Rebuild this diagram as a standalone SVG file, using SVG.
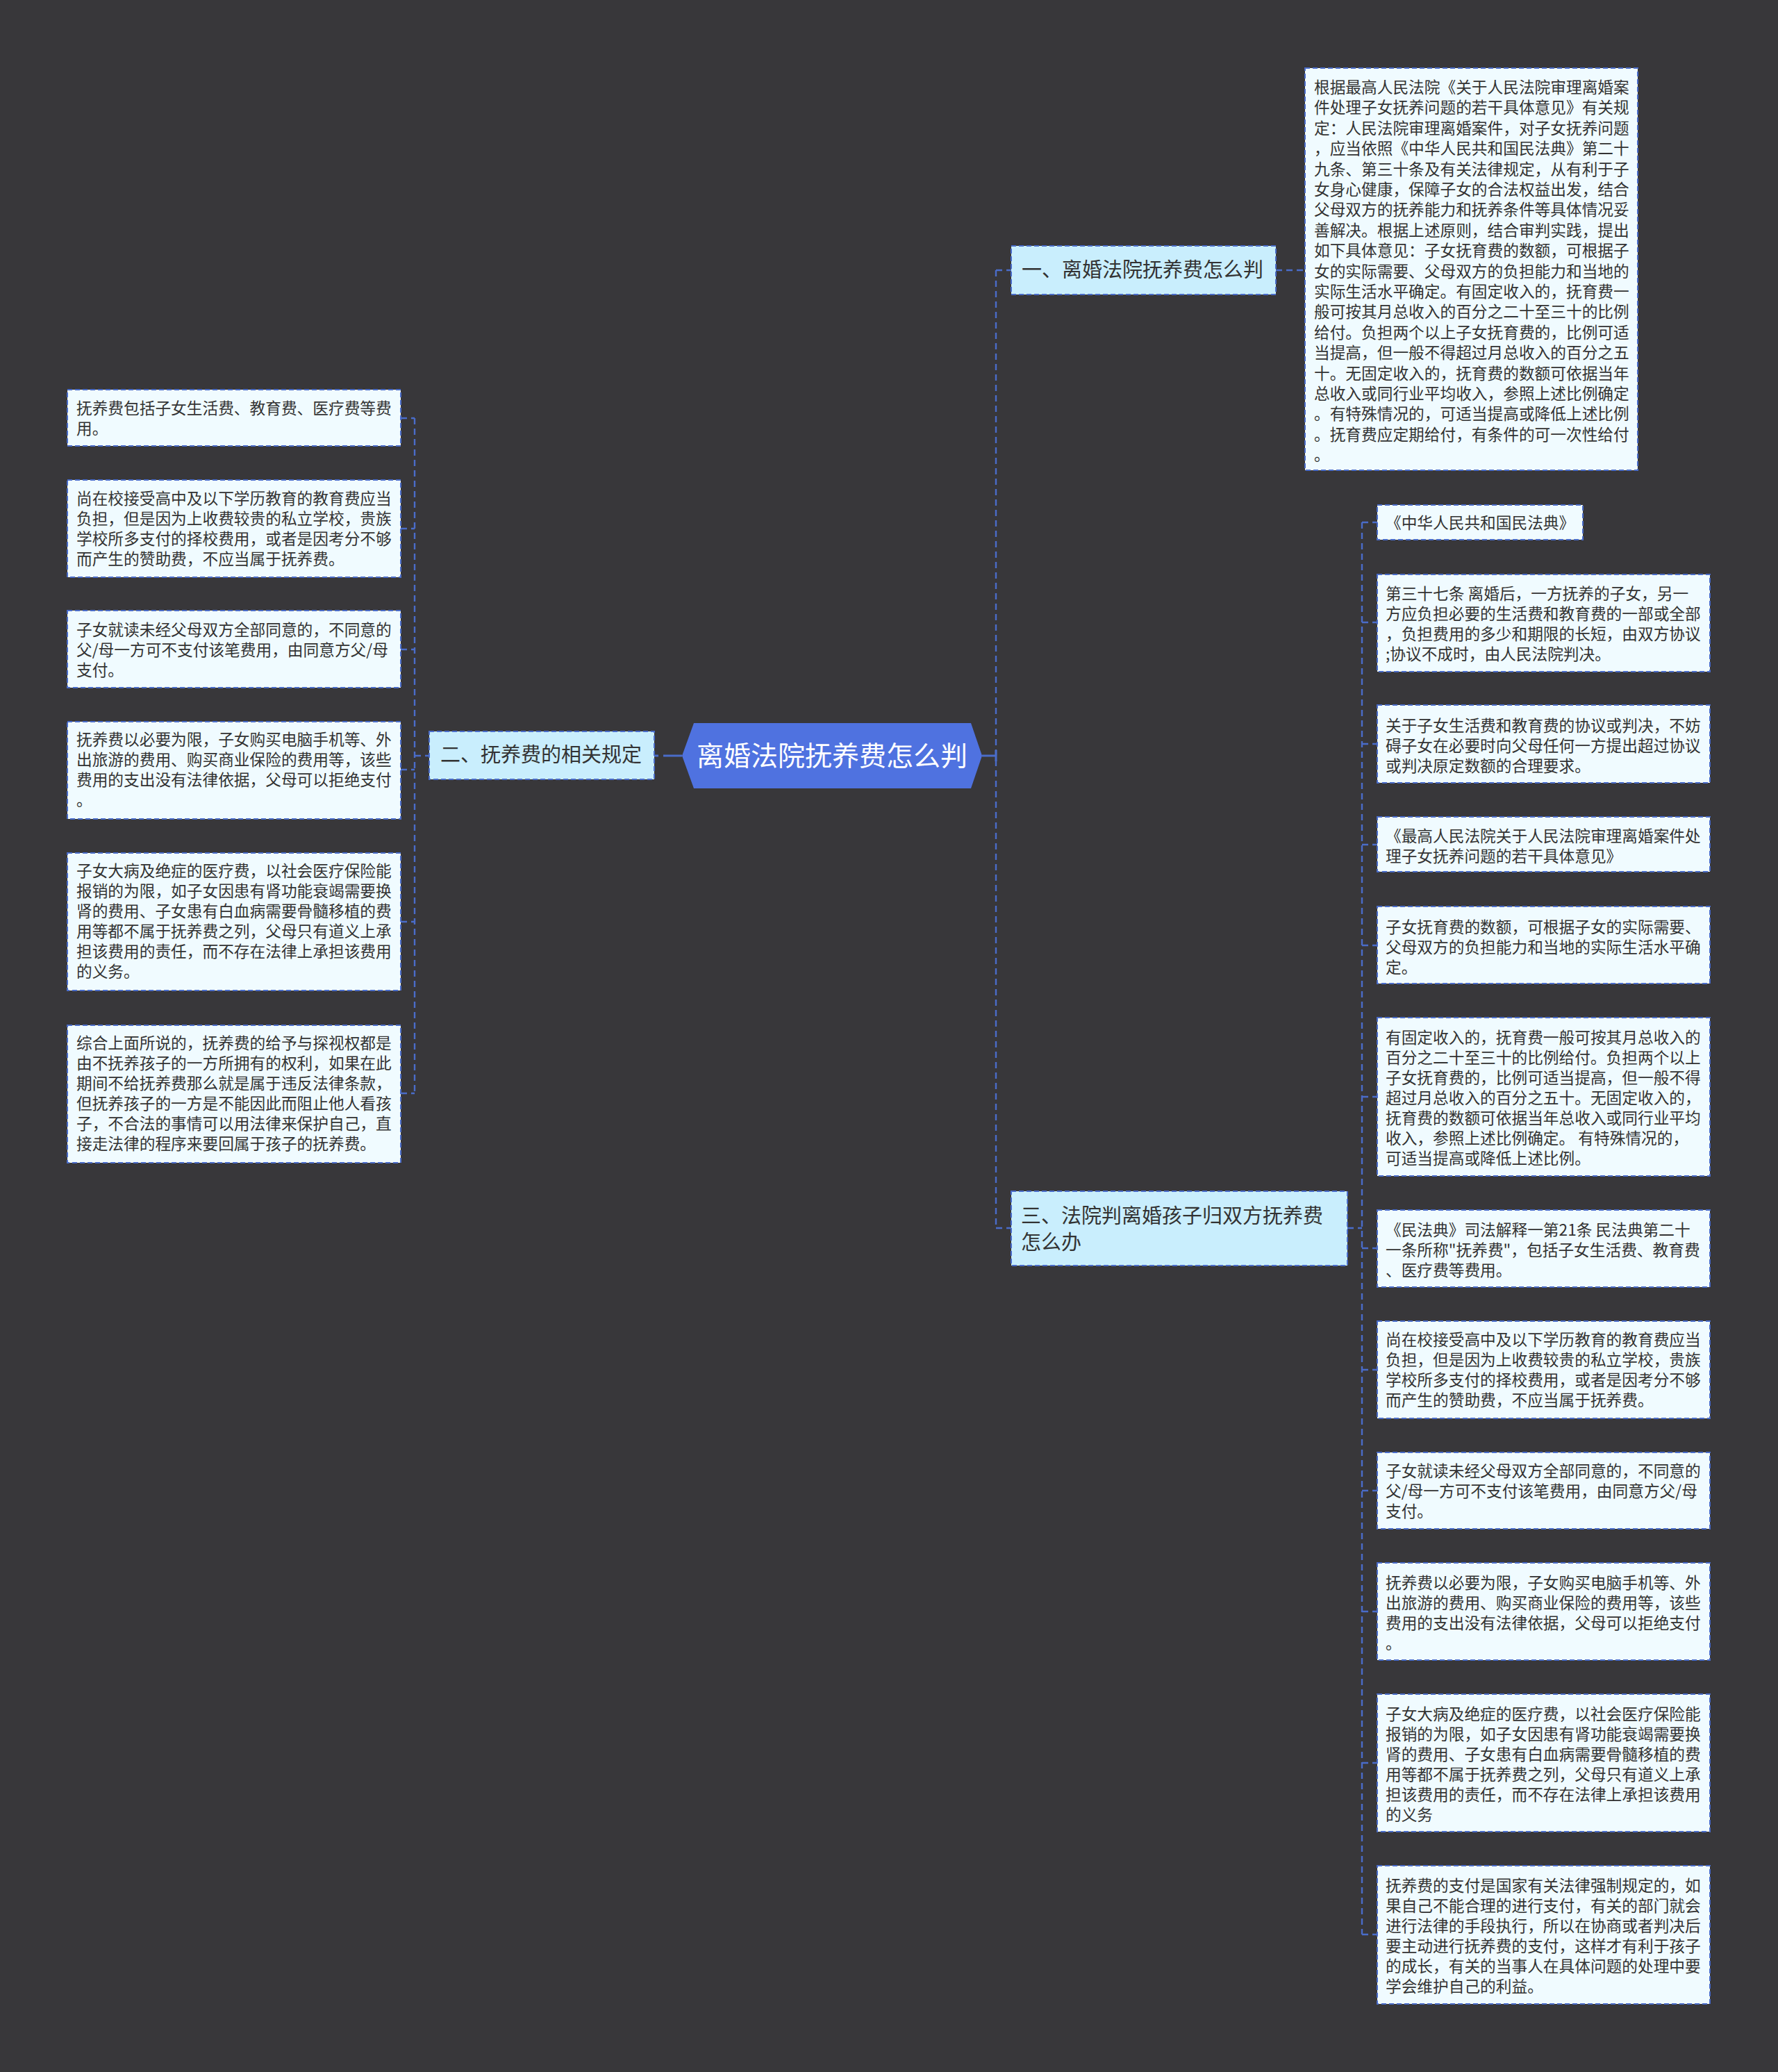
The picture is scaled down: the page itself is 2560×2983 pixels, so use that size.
<svg xmlns="http://www.w3.org/2000/svg" width="2560" height="2983" viewBox="0 0 2560 2983">
<style>
.leaf{fill:#f0fbff;stroke:#4a6cc9;stroke-width:2;stroke-dasharray:7 4}
.branch{fill:#c9eefd;stroke:#4a6cc9;stroke-width:2;stroke-dasharray:7 4}
.t{font-family:"Noto Sans CJK SC","Microsoft YaHei",sans-serif;font-size:22.7px;fill:#333333}
.bt{font-family:"Noto Sans CJK SC","Microsoft YaHei",sans-serif;font-size:29px;fill:#333333}
.rt{font-family:"Noto Sans CJK SC","Microsoft YaHei",sans-serif;font-size:39px;fill:#ffffff}
.conn{stroke:#4a6cc9;stroke-width:2.4;stroke-dasharray:9 6;fill:none}
.solid{stroke:#4a6cc9;stroke-width:3;fill:none}
</style>
<rect x="0" y="0" width="2560" height="2983" fill="#38373a"/>
<g id="connectors">
<path class="conn" d="M1434 389 V1768"/>
<path class="conn" d="M1434 389 H1456"/>
<path class="conn" d="M1434 1768 H1456"/>
<path class="conn" d="M1837 389 H1879"/>
<path class="solid" d="M1414 1088 H1434"/>
<path class="solid" d="M1434 1080 V1096"/>
<path class="solid" d="M955 1088 H982"/>
<path class="solid" d="M942 1088 H948"/>
<path class="conn" d="M597 602 V1574"/>
<path class="conn" d="M577 602 H597 M577 761 H597 M577 935 H597 M577 1108 H597 M577 1327 H597 M577 1574 H597 M597 1088 H618"/>
<path class="conn" d="M1961 752 V2785"/>
<path class="conn" d="M1940 1768 H1961"/>
<path class="conn" d="M1961 752 H1983 M1961 896 H1983 M1961 1071 H1983 M1961 1216 H1983 M1961 1361 H1983 M1961 1579 H1983 M1961 1797 H1983 M1961 1972 H1983 M1961 2146 H1983 M1961 2320 H1983 M1961 2538 H1983 M1961 2785 H1983"/>
</g>
<g id="root">
<polygon points="982,1088 999,1041 1398,1041 1414,1088 1398,1135 999,1135" fill="#4f72e0"/>
<text class="rt" x="1198" y="1102" text-anchor="middle">离婚法院抚养费怎么判</text>
</g>
<g id="branch1">
<rect class="branch" x="1456" y="354" width="381" height="70"/>
<text class="bt" x="1471" y="399">一、离婚法院抚养费怎么判</text>
</g>
<g id="branch1-detail">
<rect class="leaf" x="1879" y="98" width="479" height="579"/>
<text class="t">
<tspan x="1892" y="134">根据最高人民法院《关于人民法院审理离婚案</tspan>
<tspan x="1892" y="163.4">件处理子女抚养问题的若干具体意见》有关规</tspan>
<tspan x="1892" y="192.8">定：人民法院审理离婚案件，对子女抚养问题</tspan>
<tspan x="1892" y="222.2">，应当依照《中华人民共和国民法典》第二十</tspan>
<tspan x="1892" y="251.6">九条、第三十条及有关法律规定，从有利于子</tspan>
<tspan x="1892" y="281">女身心健康，保障子女的合法权益出发，结合</tspan>
<tspan x="1892" y="310.4">父母双方的抚养能力和抚养条件等具体情况妥</tspan>
<tspan x="1892" y="339.8">善解决。根据上述原则，结合审判实践，提出</tspan>
<tspan x="1892" y="369.2">如下具体意见：子女抚育费的数额，可根据子</tspan>
<tspan x="1892" y="398.6">女的实际需要、父母双方的负担能力和当地的</tspan>
<tspan x="1892" y="428">实际生活水平确定。有固定收入的，抚育费一</tspan>
<tspan x="1892" y="457.4">般可按其月总收入的百分之二十至三十的比例</tspan>
<tspan x="1892" y="486.8">给付。负担两个以上子女抚育费的，比例可适</tspan>
<tspan x="1892" y="516.2">当提高，但一般不得超过月总收入的百分之五</tspan>
<tspan x="1892" y="545.6">十。无固定收入的，抚育费的数额可依据当年</tspan>
<tspan x="1892" y="575">总收入或同行业平均收入，参照上述比例确定</tspan>
<tspan x="1892" y="604.4">。有特殊情况的，可适当提高或降低上述比例</tspan>
<tspan x="1892" y="633.8">。抚育费应定期给付，有条件的可一次性给付</tspan>
<tspan x="1892" y="663.2">。</tspan>
</text>
</g>
<g id="branch2">
<rect class="branch" x="618" y="1053" width="324" height="69"/>
<text class="bt" x="634" y="1097">二、抚养费的相关规定</text>
</g>
<g id="left1">
<rect class="leaf" x="97" y="561" width="480" height="81"/>
<text class="t"><tspan x="110" y="596">抚养费包括子女生活费、教育费、医疗费等费</tspan><tspan x="110" y="625">用。</tspan></text>
</g>
<g id="left2">
<rect class="leaf" x="97" y="691" width="480" height="140"/>
<text class="t"><tspan x="110" y="726">尚在校接受高中及以下学历教育的教育费应当</tspan><tspan x="110" y="755">负担，但是因为上收费较贵的私立学校，贵族</tspan><tspan x="110" y="784">学校所多支付的择校费用，或者是因考分不够</tspan><tspan x="110" y="813">而产生的赞助费，不应当属于抚养费。</tspan></text>
</g>
<g id="left3">
<rect class="leaf" x="97" y="879" width="480" height="111"/>
<text class="t"><tspan x="110" y="915">子女就读未经父母双方全部同意的，不同意的</tspan><tspan x="110" y="944">父/母一方可不支付该笔费用，由同意方父/母</tspan><tspan x="110" y="973">支付。</tspan></text>
</g>
<g id="left4">
<rect class="leaf" x="97" y="1039" width="480" height="140"/>
<text class="t"><tspan x="110" y="1073">抚养费以必要为限，子女购买电脑手机等、外</tspan><tspan x="110" y="1102">出旅游的费用、购买商业保险的费用等，该些</tspan><tspan x="110" y="1131">费用的支出没有法律依据，父母可以拒绝支付</tspan><tspan x="110" y="1160">。</tspan></text>
</g>
<g id="left5">
<rect class="leaf" x="97" y="1228" width="480" height="198"/>
<text class="t"><tspan x="110" y="1262">子女大病及绝症的医疗费，以社会医疗保险能</tspan><tspan x="110" y="1291">报销的为限，如子女因患有肾功能衰竭需要换</tspan><tspan x="110" y="1320">肾的费用、子女患有白血病需要骨髓移植的费</tspan><tspan x="110" y="1349">用等都不属于抚养费之列，父母只有道义上承</tspan><tspan x="110" y="1378">担该费用的责任，而不存在法律上承担该费用</tspan><tspan x="110" y="1407">的义务。</tspan></text>
</g>
<g id="left6">
<rect class="leaf" x="97" y="1476" width="480" height="198"/>
<text class="t"><tspan x="110" y="1510">综合上面所说的，抚养费的给予与探视权都是</tspan><tspan x="110" y="1539">由不抚养孩子的一方所拥有的权利，如果在此</tspan><tspan x="110" y="1568">期间不给抚养费那么就是属于违反法律条款，</tspan><tspan x="110" y="1597">但抚养孩子的一方是不能因此而阻止他人看孩</tspan><tspan x="110" y="1626">子，不合法的事情可以用法律来保护自己，直</tspan><tspan x="110" y="1655">接走法律的程序来要回属于孩子的抚养费。</tspan></text>
</g>
<g id="branch3">
<rect class="branch" x="1456" y="1715" width="484" height="107"/>
<text class="bt"><tspan x="1470" y="1761">三、法院判离婚孩子归双方抚养费</tspan><tspan x="1470" y="1799">怎么办</tspan></text>
</g>
<g id="right1">
<rect class="leaf" x="1983" y="727" width="296" height="50"/>
<text class="t" x="1995" y="761">《中华人民共和国民法典》</text>
</g>
<g id="right2">
<rect class="leaf" x="1983" y="827" width="479" height="140"/>
<text class="t"><tspan x="1995" y="863">第三十七条 离婚后，一方抚养的子女，另一</tspan><tspan x="1995" y="892">方应负担必要的生活费和教育费的一部或全部</tspan><tspan x="1995" y="921">，负担费用的多少和期限的长短，由双方协议</tspan><tspan x="1995" y="950">;协议不成时，由人民法院判决。</tspan></text>
</g>
<g id="right3">
<rect class="leaf" x="1983" y="1015" width="479" height="112"/>
<text class="t"><tspan x="1995" y="1053">关于子女生活费和教育费的协议或判决，不妨</tspan><tspan x="1995" y="1082">碍子女在必要时向父母任何一方提出超过协议</tspan><tspan x="1995" y="1111">或判决原定数额的合理要求。</tspan></text>
</g>
<g id="right4">
<rect class="leaf" x="1983" y="1176" width="479" height="79"/>
<text class="t"><tspan x="1995" y="1212">《最高人民法院关于人民法院审理离婚案件处</tspan><tspan x="1995" y="1241">理子女抚养问题的若干具体意见》</tspan></text>
</g>
<g id="right5">
<rect class="leaf" x="1983" y="1305" width="479" height="111"/>
<text class="t"><tspan x="1995" y="1343">子女抚育费的数额，可根据子女的实际需要、</tspan><tspan x="1995" y="1372">父母双方的负担能力和当地的实际生活水平确</tspan><tspan x="1995" y="1401">定。</tspan></text>
</g>
<g id="right6">
<rect class="leaf" x="1983" y="1465" width="479" height="228"/>
<text class="t"><tspan x="1995" y="1502">有固定收入的，抚育费一般可按其月总收入的</tspan><tspan x="1995" y="1531">百分之二十至三十的比例给付。负担两个以上</tspan><tspan x="1995" y="1560">子女抚育费的，比例可适当提高，但一般不得</tspan><tspan x="1995" y="1589">超过月总收入的百分之五十。无固定收入的，</tspan><tspan x="1995" y="1618">抚育费的数额可依据当年总收入或同行业平均</tspan><tspan x="1995" y="1647">收入，参照上述比例确定。 有特殊情况的，</tspan><tspan x="1995" y="1676">可适当提高或降低上述比例。</tspan></text>
</g>
<g id="right7">
<rect class="leaf" x="1983" y="1742" width="479" height="111"/>
<text class="t"><tspan x="1995" y="1779">《民法典》司法解释一第21条 民法典第二十</tspan><tspan x="1995" y="1808">一条所称"抚养费"，包括子女生活费、教育费</tspan><tspan x="1995" y="1837">、医疗费等费用。</tspan></text>
</g>
<g id="right8">
<rect class="leaf" x="1983" y="1902" width="479" height="140"/>
<text class="t"><tspan x="1995" y="1937">尚在校接受高中及以下学历教育的教育费应当</tspan><tspan x="1995" y="1966">负担，但是因为上收费较贵的私立学校，贵族</tspan><tspan x="1995" y="1995">学校所多支付的择校费用，或者是因考分不够</tspan><tspan x="1995" y="2024">而产生的赞助费，不应当属于抚养费。</tspan></text>
</g>
<g id="right9">
<rect class="leaf" x="1983" y="2091" width="479" height="110"/>
<text class="t"><tspan x="1995" y="2126">子女就读未经父母双方全部同意的，不同意的</tspan><tspan x="1995" y="2155">父/母一方可不支付该笔费用，由同意方父/母</tspan><tspan x="1995" y="2184">支付。</tspan></text>
</g>
<g id="right10">
<rect class="leaf" x="1983" y="2250" width="479" height="140"/>
<text class="t"><tspan x="1995" y="2287">抚养费以必要为限，子女购买电脑手机等、外</tspan><tspan x="1995" y="2316">出旅游的费用、购买商业保险的费用等，该些</tspan><tspan x="1995" y="2345">费用的支出没有法律依据，父母可以拒绝支付</tspan><tspan x="1995" y="2374">。</tspan></text>
</g>
<g id="right11">
<rect class="leaf" x="1983" y="2439" width="479" height="198"/>
<text class="t"><tspan x="1995" y="2476">子女大病及绝症的医疗费，以社会医疗保险能</tspan><tspan x="1995" y="2505">报销的为限，如子女因患有肾功能衰竭需要换</tspan><tspan x="1995" y="2534">肾的费用、子女患有白血病需要骨髓移植的费</tspan><tspan x="1995" y="2563">用等都不属于抚养费之列，父母只有道义上承</tspan><tspan x="1995" y="2592">担该费用的责任，而不存在法律上承担该费用</tspan><tspan x="1995" y="2621">的义务</tspan></text>
</g>
<g id="right12">
<rect class="leaf" x="1983" y="2686" width="479" height="199"/>
<text class="t"><tspan x="1995" y="2723">抚养费的支付是国家有关法律强制规定的，如</tspan><tspan x="1995" y="2752">果自己不能合理的进行支付，有关的部门就会</tspan><tspan x="1995" y="2781">进行法律的手段执行，所以在协商或者判决后</tspan><tspan x="1995" y="2810">要主动进行抚养费的支付，这样才有利于孩子</tspan><tspan x="1995" y="2839">的成长，有关的当事人在具体问题的处理中要</tspan><tspan x="1995" y="2868">学会维护自己的利益。</tspan></text>
</g>
</svg>
